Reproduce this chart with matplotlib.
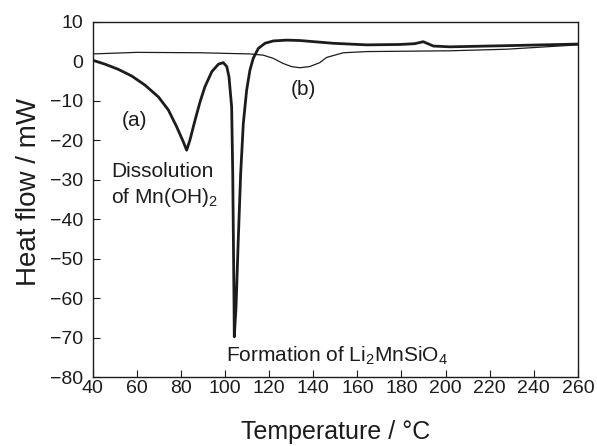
import matplotlib
matplotlib.use("Agg")
import matplotlib.pyplot as plt

plt.rcParams["font.family"] = ["Liberation Sans", "DejaVu Sans"]
plt.rcParams["mathtext.fontset"] = "custom"
plt.rcParams["mathtext.rm"] = "Liberation Sans"
plt.rcParams["mathtext.it"] = "Liberation Sans:italic"

# curve (a): thick line
temp_a = [40, 45.6, 51.6, 57.7, 63.7, 69.8, 74.3, 78.1, 81.1, 82.6,
          84.1, 86.4, 88.7, 90.9, 94.0, 97.0, 99.2, 100.8, 101.8,
          103.0, 103.5, 103.8, 104.1, 104.2, 105.0, 106.0, 107.1, 108.3,
          109.8, 111.3, 112.8, 115.1, 118.1, 121.9, 128, 134, 149.1, 164.3,
          179.4, 186, 189.9, 194.5, 202, 227.8, 260]
flow_a = [0.3, -0.7, -2.0, -3.7, -6.0, -9.0, -12.3, -16.6, -20.4, -22.5,
          -19.9, -14.9, -10.2, -6.4, -2.6, -0.7, -0.3, -1.3, -3.9,
          -11.5, -28.4, -45.3, -62.2, -69.8, -62.2, -45.3, -28.4, -15.7,
          -7.3, -2.2, 0.8, 3.3, 4.6, 5.2, 5.4, 5.3, 4.6, 4.2,
          4.3, 4.5, 5.0, 3.9, 3.7, 4.0, 4.4]

# curve (b): thin line
temp_b = [40, 60, 88.6, 111.3, 117.3, 121.8, 126.3, 130.1, 133.9, 138.4,
          143, 146, 153.6, 164.3, 202, 227.8, 260]
flow_b = [1.9, 2.3, 2.2, 1.9, 1.6, 0.8, -0.5, -1.3, -1.6, -1.3,
          -0.3, 1.0, 2.2, 2.5, 2.7, 3.1, 4.2]

x_ticks = list(range(40, 261, 20))
y_ticks = list(range(-80, 11, 10))

ink = "#1c1c1c"

fig = plt.figure(figsize=(5.97, 4.46), dpi=100)
ax = fig.add_axes([0.1553, 0.1547, 0.8126, 0.796])

ax.plot(temp_b, flow_b, color=ink, linewidth=0.9, solid_joinstyle="round")
ax.plot(temp_a, flow_a, color=ink, linewidth=2.0, solid_joinstyle="round")

ax.set_xlim(40, 260)
ax.set_ylim(-80, 10)
ax.set_xticks(x_ticks)
ax.set_yticks(y_ticks)
ax.tick_params(direction="in", length=5, labelsize=14, top=False, right=False,
               colors=ink)
ax.tick_params(axis="x", pad=2)
ax.tick_params(axis="y", pad=7)
for sp in ax.spines.values():
    sp.set_linewidth(1.0)
    sp.set_color(ink)

ax.set_xlabel("Temperature / \u00b0C", fontsize=18, color=ink, va="top")
ax.xaxis.set_label_coords(0.5, -0.121)
ax.set_ylabel("Heat flow / mW", fontsize=20, color=ink)
ax.yaxis.set_label_coords(-0.1045, 0.52)

ax.text(59, -14.9, "(a)", fontsize=15, ha="center", va="center", color=ink)
ax.text(135.7, -7.0, "(b)", fontsize=15, ha="center", va="center", color=ink)
ax.text(48.5, -29.2, "Dissolution", fontsize=15, ha="left", va="baseline", color=ink)
ax.text(48.5, -35.9, "of Mn(OH)$_2$", fontsize=15, ha="left", va="baseline", color=ink)
ax.text(100.3, -76.1, "Formation of Li$_2$MnSiO$_4$", fontsize=15, ha="left",
        va="baseline", color=ink)

fig.savefig("out.png", dpi=100)
